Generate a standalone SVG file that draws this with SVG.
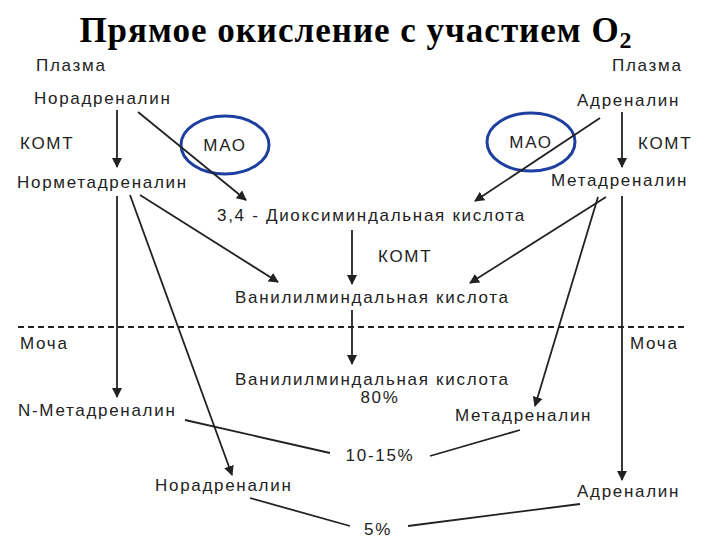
<svg xmlns="http://www.w3.org/2000/svg" width="720" height="540" viewBox="0 0 720 540">
<style>
text{font-family:"Liberation Sans",Arial,sans-serif;font-size:17px;letter-spacing:1.7px;fill:#222}
.t{font-family:"Liberation Serif","Times New Roman",serif;font-size:35px;letter-spacing:1px;font-weight:bold;fill:#000}
.c{text-anchor:middle}
line{stroke:#222;stroke-width:1.8}
.a{marker-end:url(#ar)}
ellipse{fill:none;stroke:#1f3fa0;stroke-width:3}
</style>
<defs><marker id="ar" markerWidth="10" markerHeight="10" refX="9" refY="5" orient="auto" markerUnits="userSpaceOnUse"><path d="M0,0 L10,5 L0,10 Z" fill="#222"/></marker></defs>
<rect width="720" height="540" fill="#fff"/>
<text class="t c" x="356" y="42">Прямое  окисление  с участием O<tspan font-size="24" dy="6">2</tspan></text>
<g id="labels">
<text x="36" y="71">Плазма</text>
<text x="612" y="71">Плазма</text>
<text x="34" y="104">Норадреналин</text>
<text x="577" y="106">Адреналин</text>
<text x="20" y="149">КОМТ</text>
<text x="638" y="149">КОМТ</text>
<text x="17" y="188">Норметадреналин</text>
<text x="551" y="186">Метадреналин</text>
<text x="217" y="221">3,4 - Диоксиминдальная кислота</text>
<text x="378" y="262">КОМТ</text>
<text x="235" y="303">Ванилилминдальная кислота</text>
<text x="20" y="349">Моча</text>
<text x="630" y="349">Моча</text>
<text x="235" y="385">Ванилилминдальная кислота</text>
<text class="c" x="380" y="403">80%</text>
<text x="18" y="416">N-Метадреналин</text>
<text x="455" y="421">Метадреналин</text>
<text class="c" x="380" y="461">10-15%</text>
<text x="155" y="491">Норадреналин</text>
<text x="577" y="497">Адреналин</text>
<text class="c" x="378" y="535">5%</text>
</g>
<g id="mao-left"><ellipse cx="225" cy="145" rx="44" ry="29"/><text class="c" x="225" y="151">МАО</text></g>
<g id="mao-right"><ellipse cx="531" cy="142" rx="44" ry="29"/><text class="c" x="531" y="148">МАО</text></g>
<line x1="18" y1="327" x2="688" y2="327" stroke-dasharray="6,4"/>
<g id="connectors">
<line class="a" x1="117" y1="110" x2="117" y2="167"/>
<line class="a" x1="117" y1="196" x2="117" y2="397"/>
<line class="a" x1="138" y1="112" x2="246" y2="200"/>
<line class="a" x1="622" y1="112" x2="622" y2="167"/>
<line class="a" x1="600" y1="118" x2="475" y2="201"/>
<line class="a" x1="140" y1="195" x2="278" y2="282"/>
<line class="a" x1="606" y1="197" x2="470" y2="283"/>
<line class="a" x1="130" y1="195" x2="232" y2="475"/>
<line class="a" x1="598" y1="197" x2="535" y2="406"/>
<line class="a" x1="622" y1="196" x2="622" y2="480"/>
<line class="a" x1="352" y1="230" x2="352" y2="284"/>
<line class="a" x1="352" y1="310" x2="352" y2="364"/>
<line x1="185" y1="420" x2="330" y2="453"/>
<line x1="430" y1="456" x2="520" y2="430"/>
<line x1="250" y1="498" x2="350" y2="526"/>
<line x1="408" y1="526" x2="580" y2="504"/>
</g>
</svg>
